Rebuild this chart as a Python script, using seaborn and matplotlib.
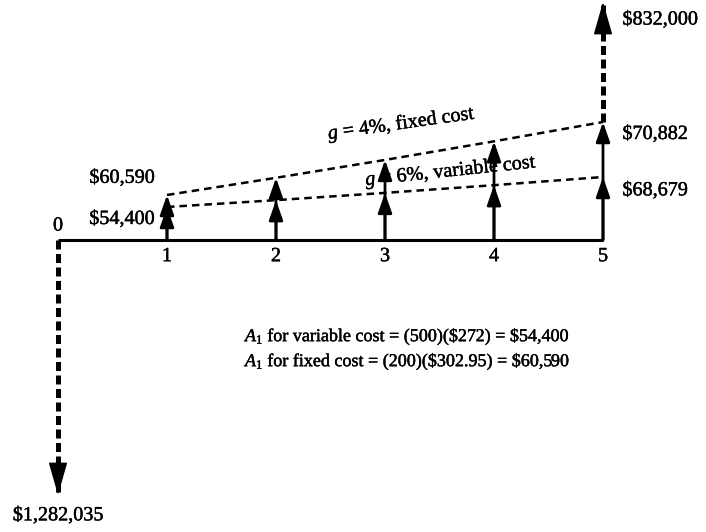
import numpy as np
import matplotlib
matplotlib.use("Agg")
import matplotlib.pyplot as plt
import matplotlib.patheffects as pe
import seaborn as sns

# cash flow data
periods = [0, 1, 2, 3, 4, 5]
cf_periods = [1, 2, 3, 4, 5]
variable_cost = [54400, 57664, 61124, 64791, 68679]   # g = 6%
fixed_cost = [60590, 63014, 65534, 68156, 70882]      # g = 4%
investment = -1282035
salvage = 832000

growth_labels = [r"$g$ = 4%, fixed cost", r"$g$ = 6%, variable cost"]
formula_lines = [r"$A_1$ for variable cost = (500)(\$272) = \$54,400",
                 r"$A_1$ for fixed cost = (200)(\$302.95) = \$60,590"]

sns.set_theme(style="white")
plt.rcParams["font.family"] = ["Liberation Serif", "DejaVu Serif"]
plt.rcParams["text.color"] = "black"
plt.rcParams["mathtext.fontset"] = "custom"
plt.rcParams["mathtext.rm"] = "Liberation Serif"
plt.rcParams["mathtext.it"] = "Liberation Serif:italic"


def _extrap(x, xp, fp):
    x = np.asarray(x, dtype=float)
    y = np.interp(x, xp, fp)
    lo = (fp[1] - fp[0]) / (xp[1] - xp[0])
    hi = (fp[-1] - fp[-2]) / (xp[-1] - xp[-2])
    y = np.where(x < xp[0], fp[0] + (x - xp[0]) * lo, y)
    y = np.where(x > xp[-1], fp[-1] + (x - xp[-1]) * hi, y)
    return y


def schematic_scale(ax, vals, hts):
    # cash flow diagrams are not drawn to scale: piecewise-linear value axis
    fwd = lambda v: _extrap(v, vals, hts)
    inv = lambda h: _extrap(h, hts, vals)
    ax.set_yscale("function", functions=(fwd, inv))
    ax.set_ylim(float(inv(-292)), float(inv(240)))
    ax.set_xlim(-58 / 109, 648 / 109)
    ax.axis("off")


fig = plt.figure(figsize=(7.06, 5.32), dpi=100)
ax = fig.add_axes([0, 0, 1, 1])
ax_fix = ax.twinx()
schematic_scale(ax, [investment, 0, variable_cost[0], variable_cost[-1], salvage],
                [-255, 0, 33, 63, 238])
schematic_scale(ax_fix, [investment, 0, fixed_cost[0], fixed_cost[-1], salvage],
                [-255, 0, 45, 118, 238])

# time line
ax.plot([periods[0], periods[-1]], [0, 0], color="black", lw=2.2, solid_capstyle="butt")

# growth lines
dash = (0, (3, 2))
sns.lineplot(x=cf_periods, y=fixed_cost, color="black", lw=1.8, linestyle=dash, ax=ax_fix)
sns.lineplot(x=cf_periods, y=variable_cost, color="black", lw=1.8, linestyle=dash, ax=ax)
ax_fix.axis("off")
ax.axis("off")

small_arrow = dict(arrowstyle="-|>,head_length=1.2,head_width=0.42", mutation_scale=10,
                   lw=2, color="black", shrinkA=0, shrinkB=0)
big_arrow = dict(arrowstyle="-|>,head_length=1.05,head_width=0.3", mutation_scale=20,
                 lw=1, color="black", shrinkA=0, shrinkB=0)

for t, v, f in zip(cf_periods, variable_cost, fixed_cost):
    ax_fix.annotate("", xy=(t, f), xytext=(t, 0), arrowprops=small_arrow)
    ax.annotate("", xy=(t, v), xytext=(t, 0), arrowprops=small_arrow)

# investment and salvage
ax.plot([periods[0], periods[0]], [0, investment], color="black", lw=3.6,
        dashes=(1.8, 0.9), dash_capstyle="butt")
ax.annotate("", xy=(periods[0], investment), xytext=(0, 24), textcoords="offset points",
            arrowprops=big_arrow)
ax_fix.plot([periods[-1], periods[-1]], [fixed_cost[-1], salvage], color="black", lw=3.6,
            dashes=(1.8, 0.9), dash_capstyle="butt")
ax.annotate("", xy=(periods[-1], salvage), xytext=(0, -24), textcoords="offset points",
            arrowprops=big_arrow)

fs = 14.5
ink = [pe.withStroke(linewidth=0.3, foreground="black")]
txt = dict(fontsize=fs, path_effects=ink)

# period numbers
ax.annotate("0", xy=(periods[0], 0), xytext=(0, 10), textcoords="offset points",
            ha="center", va="center", **txt)
for t in cf_periods:
    ax.annotate(str(t), xy=(t, 0), xytext=(0, -12), textcoords="offset points",
                ha="center", va="center", **txt)

# amount labels
ax_fix.annotate(f"${fixed_cost[0]:,}", xy=(cf_periods[0], fixed_cost[0]), xytext=(-9, 12),
                textcoords="offset points", ha="right", va="center", **txt)
ax.annotate(f"${variable_cost[0]:,}", xy=(cf_periods[0], variable_cost[0]), xytext=(-9, -9),
            textcoords="offset points", ha="right", va="center", **txt)
ax_fix.annotate(f"${fixed_cost[-1]:,}", xy=(cf_periods[-1], fixed_cost[-1]), xytext=(14, -9),
                textcoords="offset points", ha="left", va="center", **txt)
ax.annotate(f"${variable_cost[-1]:,}", xy=(cf_periods[-1], variable_cost[-1]), xytext=(14, -10),
            textcoords="offset points", ha="left", va="center", **txt)
ax.annotate(f"${salvage:,}", xy=(periods[-1], salvage), xytext=(14, -13),
            textcoords="offset points", ha="left", va="center", **txt)
ax.annotate(f"${-investment:,}", xy=(periods[0], investment), xytext=(0, -15),
            textcoords="offset points", ha="center", va="center", **txt)

# growth notes
ax.text(0.569, 0.767, growth_labels[0], transform=ax.transAxes, rotation=8,
        ha="center", va="center", **txt)
ax.text(0.639, 0.677, growth_labels[1], transform=ax.transAxes, rotation=6,
        ha="center", va="center", **txt)

# equations
ax.text(0.347, 0.367, formula_lines[0], transform=ax.transAxes, ha="left", va="center",
        fontsize=13, path_effects=ink)
ax.text(0.347, 0.320, formula_lines[1], transform=ax.transAxes, ha="left", va="center",
        fontsize=13, path_effects=ink)

fig.savefig("out.png", dpi=100, facecolor="white")
